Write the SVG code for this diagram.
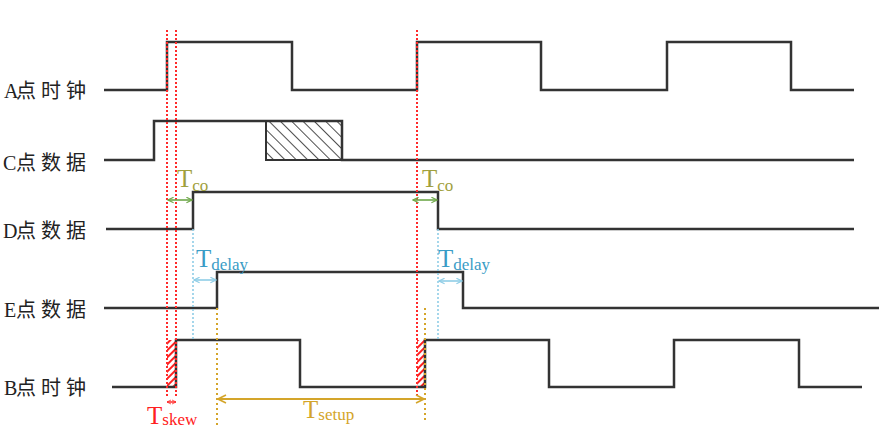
<svg xmlns="http://www.w3.org/2000/svg" width="888" height="439" viewBox="0 0 888 439">
<defs>
<style>
.sig{fill:none;stroke:#333;stroke-width:2.5;stroke-linejoin:miter}
.lbl{font-family:"Liberation Serif","Noto Sans CJK SC",serif;font-size:20px;fill:#222}
.red{stroke:#ff2a2a;stroke-width:2;stroke-dasharray:2 2;fill:none}
.blue{stroke:#8fcde6;stroke-width:1.6;stroke-dasharray:2 2;fill:none}
.gold{stroke:#d4a52a;stroke-width:2;stroke-dasharray:2 3;fill:none}
.tt{font-family:"Liberation Serif",serif;font-size:25px}
.sub{font-size:17px}
</style>
<pattern id="hatchBlack" width="8" height="8" patternUnits="userSpaceOnUse" patternTransform="rotate(-45)">
<line x1="0" y1="0" x2="0" y2="8" stroke="#222" stroke-width="1.6"/>
</pattern>
<pattern id="hatchRed" width="5" height="5" patternUnits="userSpaceOnUse" patternTransform="rotate(45)">
<line x1="1" y1="0" x2="1" y2="5" stroke="#ff2020" stroke-width="2"/>
</pattern>
<marker id="arG" viewBox="0 0 10 10" refX="9" refY="5" markerWidth="7" markerHeight="7" markerUnits="userSpaceOnUse" orient="auto-start-reverse"><path d="M1,1 L9,5 L1,9" fill="none" stroke="#6fa84a" stroke-width="1.6"/></marker>
<marker id="arB" viewBox="0 0 10 10" refX="9" refY="5" markerWidth="7" markerHeight="7" markerUnits="userSpaceOnUse" orient="auto-start-reverse"><path d="M1,1 L9,5 L1,9" fill="none" stroke="#8fcde6" stroke-width="1.6"/></marker>
<marker id="arY" viewBox="0 0 10 10" refX="9" refY="5" markerWidth="10" markerHeight="10" markerUnits="userSpaceOnUse" orient="auto-start-reverse"><path d="M1,1 L9,5 L1,9" fill="none" stroke="#d4a52a" stroke-width="1.6"/></marker>
<marker id="arR" viewBox="0 0 10 10" refX="9" refY="5" markerWidth="5" markerHeight="6" markerUnits="userSpaceOnUse" orient="auto-start-reverse"><path d="M1,1 L9,5 L1,9" fill="none" stroke="#ff2a2a" stroke-width="1.6"/></marker>
</defs>
<rect width="888" height="439" fill="#fff"/>

<g id="sigA">
<text class="lbl" x="4 16 41 66" y="98">A点时钟</text>
<polyline class="sig" points="104,90 167,90 167,42 292,42 292,90 417,90 417,42 541,42 541,90 667,90 667,42 791,42 791,90 854,90"/>
</g>
<g id="sigC">
<text class="lbl" x="3 16 41 66" y="170">C点数据</text>
<polyline class="sig" points="104,160 154,160 154,121 342,121 342,160 854,160"/>
<rect x="266" y="121" width="76" height="39" fill="url(#hatchBlack)" stroke="#333" stroke-width="2"/>
</g>
<g id="sigD">
<text class="lbl" x="3 16 41 66" y="238">D点数据</text>
<polyline class="sig" points="106,229 193,229 193,192 438,192 438,229 854,229"/>
</g>
<g id="sigE">
<text class="lbl" x="4 16 41 66" y="317">E点数据</text>
<polyline class="sig" points="104,308 217,308 217,272 463,272 463,308 879,308"/>
</g>
<g id="sigB">
<text class="lbl" x="4 16 41 66" y="395">B点时钟</text>
<rect x="167" y="340" width="9" height="47" fill="url(#hatchRed)"/>
<rect x="417" y="340" width="8" height="47" fill="url(#hatchRed)"/>
<polyline class="sig" points="112,387 176,387 176,340 300,340 300,387 425,387 425,340 549,340 549,387 674,387 674,340 799,340 799,387 862,387"/>
</g>

<g id="connectors">
<line class="red" x1="167" y1="30" x2="167" y2="398"/>
<line class="red" x1="176" y1="30" x2="176" y2="398"/>
<line class="red" x1="417" y1="30" x2="417" y2="397"/>
<line class="blue" x1="193" y1="229" x2="193" y2="340"/>
<line class="blue" x1="438" y1="229" x2="438" y2="340"/>
<line class="gold" x1="217" y1="308" x2="217" y2="426"/>
<line class="gold" x1="425" y1="308" x2="425" y2="421"/>

<line x1="168" y1="200" x2="192" y2="200" stroke="#6fa84a" stroke-width="1.6" marker-start="url(#arG)" marker-end="url(#arG)"/>
<line x1="413" y1="200" x2="437" y2="200" stroke="#6fa84a" stroke-width="1.6" marker-start="url(#arG)" marker-end="url(#arG)"/>
<line x1="194" y1="280" x2="216" y2="280" stroke="#8fcde6" stroke-width="1.6" marker-start="url(#arB)" marker-end="url(#arB)"/>
<line x1="439" y1="281" x2="462" y2="281" stroke="#8fcde6" stroke-width="1.6" marker-start="url(#arB)" marker-end="url(#arB)"/>
<line x1="218" y1="399" x2="424" y2="399" stroke="#d4a52a" stroke-width="2" marker-start="url(#arY)" marker-end="url(#arY)"/>
<line x1="167" y1="402" x2="176" y2="402" stroke="#ff2a2a" stroke-width="1.5" marker-start="url(#arR)" marker-end="url(#arR)"/>

<text class="tt" x="177" y="187" fill="#a0a03c">T<tspan class="sub" dy="4">co</tspan></text>
<text class="tt" x="422" y="187" fill="#a0a03c">T<tspan class="sub" dy="4">co</tspan></text>
<text class="tt" x="196" y="267" fill="#3a9cc6">T<tspan class="sub" dy="3">delay</tspan></text>
<text class="tt" x="438" y="267" fill="#3a9cc6">T<tspan class="sub" dy="3">delay</tspan></text>
<text class="tt" x="147" y="424" fill="#ff2020">T<tspan class="sub" dy="1">skew</tspan></text>
<text class="tt" x="303" y="418" fill="#d4a52a">T<tspan class="sub" dy="2">setup</tspan></text>
</g>
</svg>
